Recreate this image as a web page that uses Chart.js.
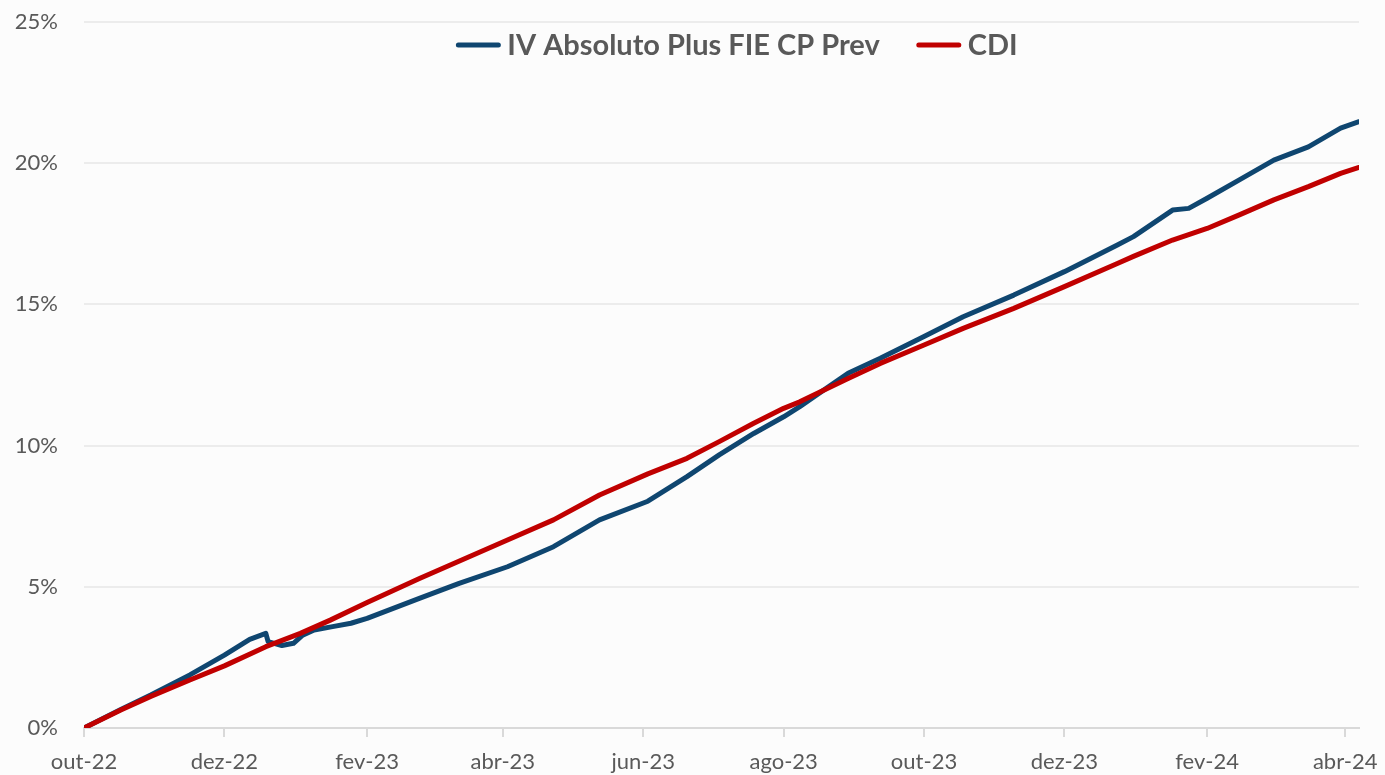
<!DOCTYPE html>
<html>
<head>
<meta charset="utf-8">
<script src="https://cdn.jsdelivr.net/npm/chart.js@4.4.1/dist/chart.umd.min.js"></script>
<style>
  html, body { margin: 0; padding: 0; background: #fcfcfc; }
  #wrap { width: 1385px; height: 775px; position: relative; }
</style>
</head>
<body>
<div id="wrap"><canvas id="chart"></canvas></div>
<script>
// Days counted from 01/10/2022, values in % accumulated return

const tickDays = [0, 61, 123, 182, 243, 304, 365, 426, 488, 548];
const tickLabels = ["out-22", "dez-22", "fev-23", "abr-23", "jun-23", "ago-23", "out-23", "dez-23", "fev-24", "abr-24"];

const fundDays = [0, 16, 29, 46, 61, 72, 79, 80, 86, 91, 95, 100, 108, 116, 123, 146, 163, 184, 204, 224, 245, 262, 276, 291, 304, 311, 332, 346, 365, 382, 404, 426, 449, 456, 473, 480, 488, 502, 517, 532, 546, 554];
const fundValues = [0, 0.66, 1.17, 1.88, 2.58, 3.14, 3.35, 3.06, 2.92, 3.0, 3.29, 3.47, 3.59, 3.71, 3.88, 4.6, 5.12, 5.71, 6.42, 7.37, 8.03, 8.9, 9.67, 10.43, 11.02, 11.38, 12.56, 13.09, 13.86, 14.56, 15.33, 16.16, 17.1, 17.4, 18.34, 18.4, 18.76, 19.41, 20.11, 20.58, 21.24, 21.47];

const cdiDays = [0, 16, 29, 46, 61, 79, 94, 107, 123, 146, 184, 204, 224, 245, 262, 276, 291, 304, 311, 332, 346, 365, 382, 404, 426, 449, 456, 473, 488, 502, 517, 532, 546, 554];
const cdiValues = [0, 0.64, 1.12, 1.7, 2.2, 2.88, 3.35, 3.82, 4.44, 5.3, 6.66, 7.37, 8.25, 9.0, 9.55, 10.14, 10.79, 11.32, 11.55, 12.38, 12.91, 13.56, 14.15, 14.86, 15.63, 16.45, 16.7, 17.28, 17.69, 18.17, 18.7, 19.17, 19.64, 19.85];

const seriesNames = ["IV Absoluto Plus FIE CP Prev", "CDI"];
const seriesColors = ["#0f4670", "#c00000"];

const textGray = "#595959";
const FONT = "Lato, 'Open Sans', sans-serif";

const toPoints = (days, vals) => days.map((d, i) => ({ x: d, y: vals[i] }));

// legend drawn inside the plot area, like the original
const topLegend = {
  id: "topLegend",
  afterDraw(chart) {
    const { ctx, chartArea } = chart;
    const lineLen = 46, gap = 6, itemGap = 36, y = 45;
    ctx.save();
    ctx.font = "bold 29px " + FONT;
    const items = chart.data.datasets.map((ds) => ({ label: ds.label, color: ds.borderColor, w: ctx.measureText(ds.label).width }));
    const total = items.reduce((s, it) => s + lineLen + gap + it.w, 0) + itemGap * (items.length - 1);
    let x = (chartArea.left + chartArea.right) / 2 + 15 - total / 2;
    items.forEach((it) => {
      ctx.strokeStyle = it.color;
      ctx.lineWidth = 5;
      ctx.lineCap = "round";
      ctx.beginPath();
      ctx.moveTo(x + 3, y);
      ctx.lineTo(x + lineLen - 3, y);
      ctx.stroke();
      x += lineLen + gap;
      ctx.fillStyle = textGray;
      ctx.textBaseline = "middle";
      ctx.textAlign = "left";
      ctx.fillText(it.label, x, y + 1);
      x += it.w + itemGap;
    });
    ctx.restore();
  },
};

new Chart(document.getElementById("chart"), {
  type: "line",
  data: {
    datasets: [
      { label: seriesNames[0], data: toPoints(fundDays, fundValues), borderColor: seriesColors[0], order: 2 },
      { label: seriesNames[1], data: toPoints(cdiDays, cdiValues), borderColor: seriesColors[1], order: 1 },
    ].map((ds) => ({ ...ds, borderWidth: 5, pointRadius: 0, tension: 0, fill: false, borderCapStyle: "round", borderJoinStyle: "round" })),
  },
  options: {
    responsive: true,
    maintainAspectRatio: false,
    animation: false,
    layout: { padding: { top: 22, right: 26, left: 0, bottom: 0 } },
    plugins: { legend: { display: false }, tooltip: { enabled: false } },
    scales: {
      x: {
        type: "linear",
        min: 0,
        max: 554,
        afterBuildTicks: (scale) => { scale.ticks = tickDays.map((v) => ({ value: v })); },
        afterFit: (scale) => { scale.height = 47; scale.paddingLeft = 0; scale.paddingRight = 0; },
        ticks: {
          autoSkip: false,
          maxRotation: 0,
          padding: 12,
          color: textGray,
          font: { family: FONT, size: 22 },
          callback: (v) => tickLabels[tickDays.indexOf(v)],
        },
        grid: { drawOnChartArea: false, drawTicks: true, tickLength: 9, color: "#d9d9d9", lineWidth: 2 },
        border: { display: true, color: "#d9d9d9", width: 2 },
      },
      y: {
        min: 0,
        max: 25,
        afterFit: (scale) => { scale.width = 84; scale.paddingTop = 0; scale.paddingBottom = 0; },
        ticks: {
          stepSize: 5,
          padding: 26,
          color: textGray,
          font: { family: FONT, size: 22 },
          callback: (v) => v + "%",
        },
        grid: { color: "#ececec", lineWidth: 2, drawTicks: false },
        border: { display: false },
      },
    },
  },
  plugins: [topLegend],
});
</script>
</body>
</html>
